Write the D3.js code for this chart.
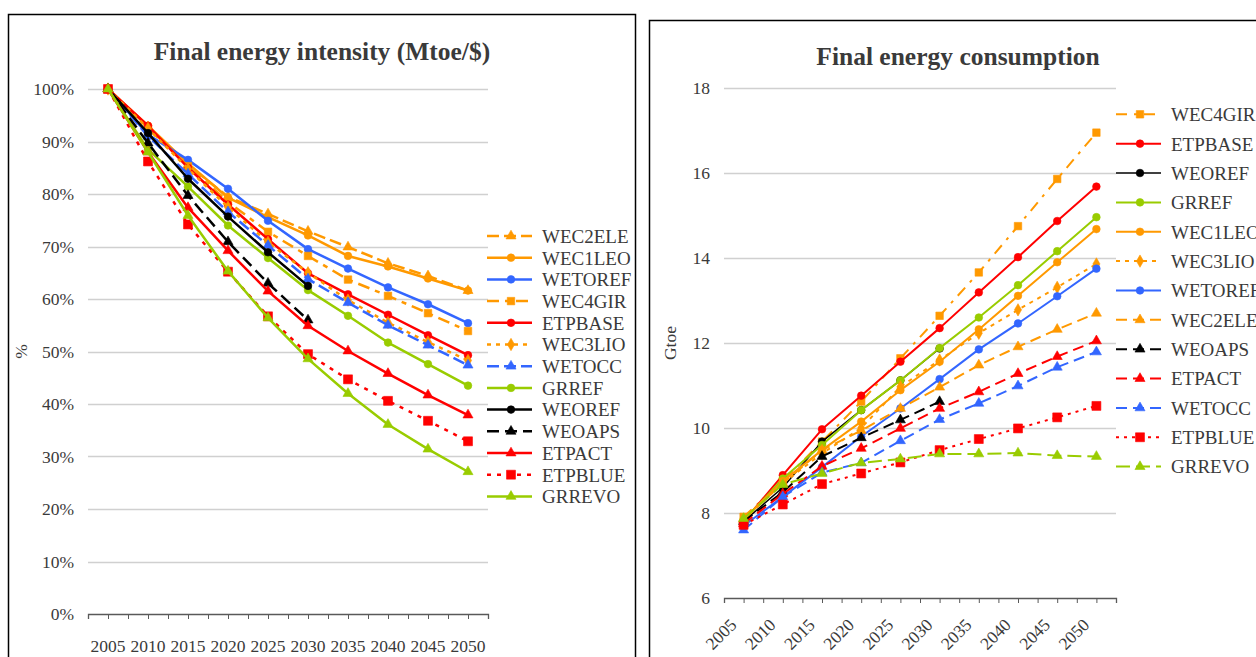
<!DOCTYPE html>
<html>
<head>
<meta charset="utf-8">
<script src="https://d3js.org/d3.v7.min.js"></script>
<style>
  body { margin: 0; background: #fff; }
  svg { display: block; font-family: "Liberation Serif", "DejaVu Serif", serif; }
</style>
</head>
<body>
<svg id="chart" width="1256" height="657"></svg>
<script>
// categories
var years = ["2005","2010","2015","2020","2025","2030","2035","2040","2045","2050"];

// final energy intensity, % of 2005
var intWEC2ELE = [100, 92.8, 85.5, 79.5, 76.2, 72.9, 69.9, 66.8, 64.4, 61.6];
var intWEC1LEO = [100, 93.0, 85.8, 79.3, 75.6, 72.1, 68.2, 66.2, 63.9, 61.6];
var intWETOREF = [100, 91.3, 86.5, 81.0, 74.9, 69.5, 65.8, 62.2, 59.0, 55.4];
var intWEC4GIR = [100, 92.5, 85.3, 78.5, 72.8, 68.2, 63.7, 60.6, 57.3, 53.9];
var intETPBASE = [100, 93.0, 85.0, 78.0, 71.4, 64.9, 60.9, 57.0, 53.1, 49.3];
var intWEC3LIO = [100, 92.5, 84.8, 77.5, 70.8, 65.0, 59.8, 55.5, 51.8, 48.3];
var intWETOCC  = [100, 91.0, 83.8, 76.6, 70.2, 63.8, 59.3, 55.0, 51.2, 47.4];
var intGRREF   = [100, 88.5, 81.4, 74.0, 67.8, 61.7, 56.8, 51.7, 47.6, 43.5];
var intWEOREF  = [100, 91.6, 82.9, 75.7, 68.9, 62.5, null, null, null, null];
var intWEOAPS  = [100, 89.7, 79.7, 70.9, 63.0, 56.0, null, null, null, null];
var intETPACT  = [100, 88.0, 77.4, 69.2, 61.5, 54.9, 50.1, 45.8, 41.7, 37.9];
var intETPBLUE = [100, 86.2, 74.2, 65.2, 56.7, 49.5, 44.7, 40.6, 36.8, 32.9];
var intGRREVO  = [100, 88.0, 75.9, 65.3, 56.4, 48.6, 42.0, 36.1, 31.4, 27.1];

// final energy consumption, Gtoe
var conWEC4GIR = [7.91, 8.75, 9.68, 10.62, 11.64, 12.64, 13.66, 14.75, 15.86, 16.95];
var conETPBASE = [7.80, 8.89, 9.97, 10.76, 11.56, 12.35, 13.19, 14.02, 14.87, 15.68];
var conWEOREF  = [7.80, 8.60, 9.68, 10.42, 11.12, 11.87, null, null, null, null];
var conGRREF   = [7.82, 8.81, 9.60, 10.42, 11.12, 11.88, 12.60, 13.36, 14.16, 14.96];
var conWEC1LEO = [7.85, 8.75, 9.48, 10.15, 10.89, 11.56, 12.32, 13.11, 13.90, 14.68];
var conWEC3LIO = [7.85, 8.70, 9.40, 10.00, 10.97, 11.60, 12.23, 12.78, 13.31, 13.86];
var conWETOREF = [7.70, 8.38, 9.08, 9.80, 10.46, 11.15, 11.85, 12.46, 13.10, 13.75];
var conWEC2ELE = [7.85, 8.70, 9.48, 9.94, 10.46, 10.96, 11.48, 11.91, 12.32, 12.70];
var conWEOAPS  = [7.80, 8.49, 9.33, 9.77, 10.19, 10.62, null, null, null, null];
var conETPACT  = [7.75, 8.45, 9.10, 9.52, 9.99, 10.46, 10.85, 11.28, 11.68, 12.05];
var conWETOCC  = [7.60, 8.38, 8.95, 9.18, 9.70, 10.20, 10.58, 10.99, 11.43, 11.79];
var conETPBLUE = [7.72, 8.20, 8.68, 8.93, 9.19, 9.48, 9.74, 9.99, 10.25, 10.52];
var conGRREVO  = [7.87, 8.67, 8.93, 9.18, 9.27, 9.39, 9.39, 9.41, 9.35, 9.33];

// axis ticks
var pctTicks = [0, 10, 20, 30, 40, 50, 60, 70, 80, 90, 100];
var gtoeTicks = [6, 8, 10, 12, 14, 16, 18];

var ORANGE = "#ff9900", BLUE = "#3366ff", RED = "#ff0000", GREEN = "#99cc00", BLACK = "#000000";

var leftSeries = [
  {name: "WEC2ELE", v: intWEC2ELE, c: ORANGE, m: "tri", d: "12,5"},
  {name: "WEC1LEO", v: intWEC1LEO, c: ORANGE, m: "circ", d: null},
  {name: "WETOREF", v: intWETOREF, c: BLUE, m: "circ", d: null},
  {name: "WEC4GIR", v: intWEC4GIR, c: ORANGE, m: "sq", d: "12,6,5,6"},
  {name: "ETPBASE", v: intETPBASE, c: RED, m: "circ", d: null},
  {name: "WEC3LIO", v: intWEC3LIO, c: ORANGE, m: "dia", d: "4,5"},
  {name: "WETOCC", v: intWETOCC, c: BLUE, m: "tri", d: "12,5"},
  {name: "GRREF", v: intGRREF, c: GREEN, m: "circ", d: null},
  {name: "WEOREF", v: intWEOREF, c: BLACK, m: "circ", d: null},
  {name: "WEOAPS", v: intWEOAPS, c: BLACK, m: "tri", d: "12,6"},
  {name: "ETPACT", v: intETPACT, c: RED, m: "tri", d: null},
  {name: "ETPBLUE", v: intETPBLUE, c: RED, m: "bigsq", d: "4,6"},
  {name: "GRREVO", v: intGRREVO, c: GREEN, m: "tri", d: null}
];

var rightSeries = [
  {name: "WEC4GIR", v: conWEC4GIR, c: ORANGE, m: "sq", d: "11,7,3,7"},
  {name: "ETPBASE", v: conETPBASE, c: RED, m: "circ", d: null},
  {name: "WEOREF", v: conWEOREF, c: BLACK, m: "circ", d: null, w: 1.5},
  {name: "GRREF", v: conGRREF, c: GREEN, m: "circ", d: null},
  {name: "WEC1LEO", v: conWEC1LEO, c: ORANGE, m: "circ", d: null},
  {name: "WEC3LIO", v: conWEC3LIO, c: ORANGE, m: "dia", d: "4,5"},
  {name: "WETOREF", v: conWETOREF, c: BLUE, m: "circ", d: null},
  {name: "WEC2ELE", v: conWEC2ELE, c: ORANGE, m: "tri", d: "11,6"},
  {name: "WEOAPS", v: conWEOAPS, c: BLACK, m: "tri", d: "11,6"},
  {name: "ETPACT", v: conETPACT, c: RED, m: "tri", d: "11,6"},
  {name: "WETOCC", v: conWETOCC, c: BLUE, m: "tri", d: "11,6"},
  {name: "ETPBLUE", v: conETPBLUE, c: RED, m: "bigsq", d: "3,5"},
  {name: "GRREVO", v: conGRREVO, c: GREEN, m: "tri", d: "14,6"}
];

var symbols = {
  circ: d3.symbol().type(d3.symbolCircle).size(46),
  tri: d3.symbol().type(d3.symbolTriangle).size(44),
  sq: d3.symbol().type(d3.symbolSquare).size(56),
  bigsq: d3.symbol().type(d3.symbolSquare).size(80),
  dia: d3.symbol().type(d3.symbolDiamond).size(44)
};

var TXT = "#3a3a3a";
var svg = d3.select("#chart");

// panel borders
svg.append("rect").attr("x", 8.5).attr("y", 14.5).attr("width", 627).attr("height", 700)
  .attr("fill", "none").attr("stroke", "#000").attr("stroke-width", 1.5);
svg.append("rect").attr("x", 649.5).attr("y", 20.5).attr("width", 700).attr("height", 700)
  .attr("fill", "none").attr("stroke", "#000").attr("stroke-width", 1.5);

function drawChart(cfg) {
  var g = svg.append("g");
  var x = d3.scaleBand().domain(years).range([cfg.x0, cfg.x1]).paddingInner(0).paddingOuter(0);
  var xm = d3.scaleLinear().domain([0, years.length]).range([cfg.x0, cfg.x1]);
  var y = d3.scaleLinear().domain(cfg.domain).range([cfg.y0, cfg.y1]);
  var cx = function (i) { return x(years[i]) + x.bandwidth() / 2; };

  // gridlines
  g.append("g").selectAll("line").data(cfg.ticks.slice(1)).join("line")
    .attr("x1", cfg.x0).attr("x2", cfg.x1)
    .attr("y1", d => Math.round(y(d)) + 0.5).attr("y2", d => Math.round(y(d)) + 0.5)
    .attr("stroke", "#d0d0d0").attr("stroke-width", 1.3);

  // y axis labels
  g.append("g").selectAll("text").data(cfg.ticks).join("text")
    .attr("x", cfg.x0 - 14).attr("y", d => y(d)).attr("dy", "0.35em")
    .attr("text-anchor", "end").attr("fill", TXT).style("font-size", "17.5px")
    .text(cfg.fmt);

  // x axis: line + minor ticks at half categories
  var ax = g.append("g").attr("transform", "translate(0," + cfg.y0 + ")")
    .call(d3.axisBottom(xm).tickValues(d3.range(0, years.length + 0.01, 0.5)).tickFormat("").tickSize(5).tickSizeOuter(5));
  ax.select(".domain").attr("stroke", "#595959").attr("stroke-width", 1.3);
  ax.selectAll(".tick line").attr("stroke", "#595959");

  var lab = g.append("g").selectAll("text").data(years).join("text")
    .attr("fill", TXT).style("font-size", "17.5px").text(d => d);
  if (cfg.rotate) {
    lab.attr("text-anchor", "end")
      .attr("transform", (d, i) => "translate(" + (cx(i) - 6) + "," + (cfg.y0 + 28) + ") rotate(-45)");
  } else {
    lab.attr("text-anchor", "middle").attr("x", (d, i) => cx(i)).attr("y", cfg.y0 + 38);
  }

  // y title
  g.append("text").attr("transform", "translate(" + cfg.ytx + "," + ((cfg.y0 + cfg.y1) / 2) + ") rotate(-90)")
    .attr("text-anchor", "middle").attr("fill", TXT).style("font-size", "17.5px").text(cfg.ytitle);

  // title
  g.append("text").attr("x", cfg.tx).attr("y", cfg.ty).attr("text-anchor", "middle")
    .attr("fill", TXT).style("font-size", "25.5px").style("font-weight", "bold").text(cfg.title);

  // lines
  var line = d3.line().defined(d => d != null).x((d, i) => cx(i)).y(d => y(d));
  cfg.series.forEach(function (s) {
    var sg = g.append("g");
    sg.append("path").attr("d", line(s.v)).attr("fill", "none").attr("stroke", s.c)
      .attr("stroke-width", s.w || cfg.lw).attr("stroke-dasharray", s.d).attr("stroke-linejoin", "round");
    sg.selectAll("path.m").data(s.v.map((d, i) => [d, i]).filter(p => p[0] != null)).join("path")
      .attr("class", "m").attr("d", symbols[s.m]())
      .attr("transform", p => "translate(" + cx(p[1]) + "," + y(p[0]) + ")")
      .attr("fill", s.c).attr("stroke", s.c).attr("stroke-width", 0.6);
  });

  // legend
  var lg = g.append("g");
  cfg.series.forEach(function (s, i) {
    var ly = cfg.ly + i * cfg.lstep;
    lg.append("line").attr("x1", cfg.lx).attr("x2", cfg.lx + 45).attr("y1", ly).attr("y2", ly)
      .attr("stroke", s.c).attr("stroke-width", s.w || cfg.lw).attr("stroke-dasharray", s.d);
    lg.append("path").attr("d", symbols[s.m]()).attr("transform", "translate(" + (cfg.lx + 24) + "," + ly + ")")
      .attr("fill", s.c).attr("stroke", s.c).attr("stroke-width", 0.6);
    lg.append("text").attr("x", cfg.lx + 55).attr("y", ly).attr("dy", "0.36em")
      .attr("fill", TXT).style("font-size", "19px").text(s.name);
  });
}

drawChart({
  series: leftSeries, x0: 88, x1: 488, y0: 614, y1: 89, domain: [0, 100], ticks: pctTicks,
  fmt: d => d + "%", rotate: false, ytx: 27, ytitle: "%",
  title: "Final energy intensity (Mtoe/$)", tx: 322, ty: 60,
  lx: 487, ly: 236, lstep: 21.7, lw: 2.5
});

drawChart({
  series: rightSeries, x0: 724, x1: 1116, y0: 598, y1: 88, domain: [6, 18], ticks: gtoeTicks,
  fmt: d => d, rotate: true, ytx: 676, ytitle: "Gtoe",
  title: "Final energy consumption", tx: 958, ty: 65,
  lx: 1116, ly: 114.3, lstep: 29.36, lw: 2
});
</script>
</body>
</html>
